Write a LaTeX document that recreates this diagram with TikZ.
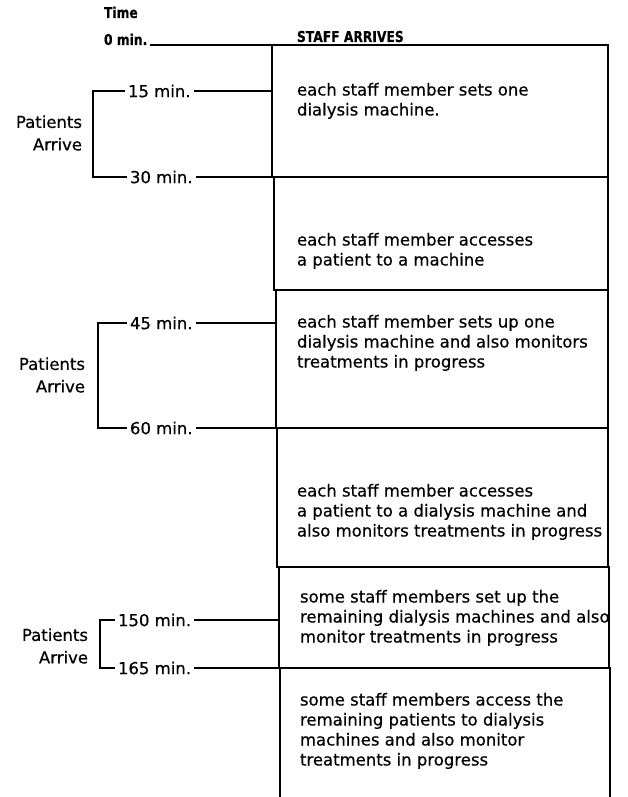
\documentclass[tikz,border=0pt]{standalone}
\usepackage{fontspec}
\setmainfont{DejaVu Sans}[FakeBold=0.5]
\newcommand{\narrowhdr}[1]{\scalebox{0.82}[1]{#1}}
\begin{document}
\begin{tikzpicture}[x=1pt,y=-1pt,
  every node/.style={inner sep=0pt, outer sep=0pt},
  txt/.style={font=\fontsize{16.5}{20}\selectfont},
  boxtxt/.style={txt, align=left, anchor=north west},
  tlabel/.style={txt, anchor=west},
  pa/.style={font=\fontsize{16.5}{22.5}\selectfont, align=right, anchor=east},
  hdr/.style={font=\bfseries\fontsize{15}{18}\selectfont, anchor=base west},
  stage/.style={draw, line width=1.5pt, anchor=north west},
  rule/.style={line width=1.5pt},
]
\useasboundingbox (0,0) rectangle (628,797);

% stage boxes
\node[stage, minimum width=336pt, minimum height=132pt] (B1) at (272,45) {};
\node[stage, minimum width=334pt, minimum height=113pt] (B2) at (274,177) {};
\node[stage, minimum width=332pt, minimum height=138pt] (B3) at (276,290) {};
\node[stage, minimum width=331pt, minimum height=139pt] (B4) at (277,428) {};
\node[stage, minimum width=330pt, minimum height=101pt] (B5) at (279,567) {};
\node[stage, minimum width=330pt, minimum height=145pt] (B6) at (280,668) {};

% box texts
\node[boxtxt] (T1) at (297,81.5) {\strut each staff member sets one\\dialysis machine.};
\node[boxtxt] (T2) at (297,231.5) {\strut each staff member accesses\\a patient to a machine};
\node[boxtxt] (T3) at (297,313.5) {\strut each staff member sets up one\\dialysis machine and also monitors\\treatments in progress};
\node[boxtxt] (T4) at (297,482.5) {\strut each staff member accesses\\a patient to a dialysis machine and\\also monitors treatments in progress};
\node[boxtxt] (T5) at (300,588.5) {\strut some staff members set up the\\remaining dialysis machines and also\\monitor treatments in progress};
\node[boxtxt] (T6) at (300,691.5) {\strut some staff members access the\\remaining patients to dialysis\\machines and also monitor\\treatments in progress};

% header
\node[hdr] (time) at (104,18) {\narrowhdr{Time}};
\node[hdr] (t0) at (104,45) {\narrowhdr{0 min.}};
\node[hdr] (staff) at (297,42) {\narrowhdr{STAFF ARRIVES}};
\draw[rule] ([xshift=3pt]t0.east |- B1.north west) -- (B1.north west);

% time labels
\node[tlabel] (t15) at (128,91) {15 min.};
\node[tlabel] (t30) at (130,177) {30 min.};
\node[tlabel] (t45) at (130,323) {45 min.};
\node[tlabel] (t60) at (130,428) {60 min.};
\node[tlabel] (t150) at (118,620) {150 min.};
\node[tlabel] (t165) at (118,668) {165 min.};

% patients arrive labels
\node[pa] (P1) at (82,133) {Patients\\Arrive};
\node[pa] (P2) at (85,375) {Patients\\Arrive};
\node[pa] (P3) at (88,646) {Patients\\Arrive};

% bracket positions
\coordinate (k1) at (93,0);
\coordinate (k2) at (98,0);
\coordinate (k3) at (100,0);

% brackets
\draw[rule] ([xshift=-3pt]t15.west) -- (t15.west -| k1) -- (t30.west -| k1) -- ([xshift=-3pt]t30.west);
\draw[rule] ([xshift=-3pt]t45.west) -- (t45.west -| k2) -- (t60.west -| k2) -- ([xshift=-3pt]t60.west);
\draw[rule] ([xshift=-3pt]t150.west) -- (t150.west -| k3) -- (t165.west -| k3) -- ([xshift=-3pt]t165.west);

% ticks to the boxes
\draw[rule] ([xshift=3pt]t15.east) -- (t15.east -| B1.west);
\draw[rule] ([xshift=3pt]t30.east) -- (t30.east -| B1.west);
\draw[rule] ([xshift=3pt]t45.east) -- (t45.east -| B3.west);
\draw[rule] ([xshift=3pt]t60.east) -- (t60.east -| B3.west);
\draw[rule] ([xshift=3pt]t150.east) -- (t150.east -| B5.west);
\draw[rule] ([xshift=3pt]t165.east) -- (t165.east -| B5.west);
\end{tikzpicture}
\end{document}
